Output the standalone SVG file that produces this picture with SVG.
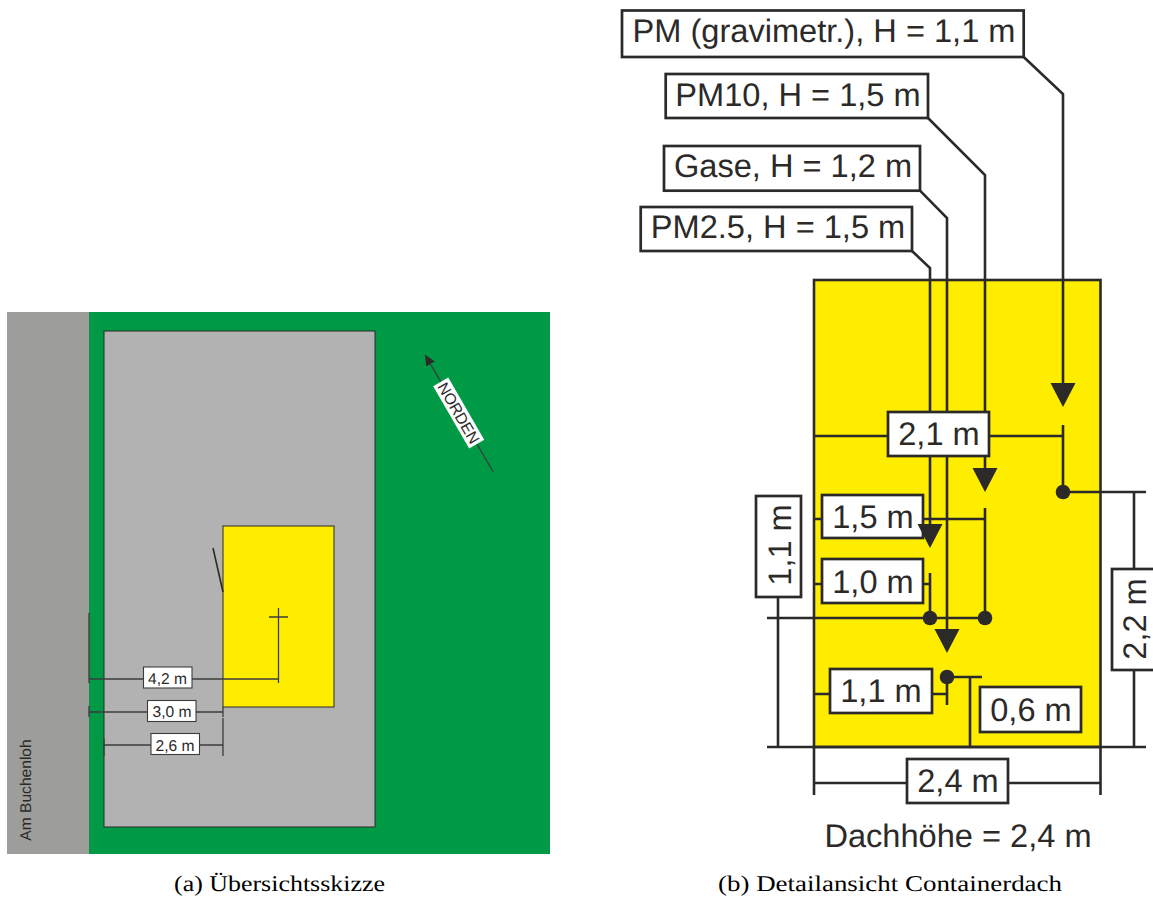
<svg xmlns="http://www.w3.org/2000/svg" width="1153" height="900" viewBox="0 0 1153 900">
<style>
text{text-rendering:geometricPrecision}
.l{fill:none;stroke:#2b2a29;stroke-width:2.6}
.s{fill:none;stroke:#3c3c3b;stroke-width:1.3}
.b{fill:#fff;stroke:#2b2a29;stroke-width:2.7}
.bs{fill:#fff;stroke:#3c3c3b;stroke-width:1.1}
.t{font-family:"Liberation Sans",Arial,sans-serif;font-size:32.600px;fill:#2b2a29;text-anchor:middle}
.ts{font-family:"Liberation Sans",Arial,sans-serif;font-size:15.6px;fill:#2b2a29;text-anchor:middle}
.c{font-family:"Liberation Serif","Times New Roman",serif;font-size:22.5px;fill:#000}
.d{fill:#2b2a29}
</style>
<defs>
<marker id="arrow" markerUnits="userSpaceOnUse" markerWidth="26" markerHeight="26" refX="14" refY="12.5" orient="auto"><path d="M0 0L24 12.5L0 25Z" fill="#2b2a29"/></marker>
<marker id="arrowS" markerUnits="userSpaceOnUse" markerWidth="14" markerHeight="14" refX="6" refY="5" orient="auto"><path d="M0 0L11 5L0 10Z" fill="#2b2a29"/></marker>
</defs>

<g id="overview-site">
<rect x="7" y="312" width="82" height="542" fill="#9d9d9c"/>
<rect x="89" y="312" width="461" height="542" fill="#009a46"/>
<rect x="104" y="331" width="271" height="496" fill="#b2b2b2" stroke="#2b2a29" stroke-width="1"/>
<rect x="223" y="526" width="111" height="181" fill="#ffed00" stroke="#2b2a29" stroke-width="1"/>
<text class="ts" transform="translate(30.5 790) rotate(-90)">Am Buchenloh</text>
</g>
<g id="overview-connectors">
<path class="l" style="stroke-width:1.6" d="M213 548L223 592"/>
<path class="s" d="M269 617H288M278.500 608V683M89 613V683M89 679H278.500M89 706V717M89 712H223M223 707V717M223 718V756M104 739V756M104 745H223"/>
<path class="s" d="M493 471.500L427.500 358.800" marker-end="url(#arrowS)"/>
</g>
<g id="dim-4-2"><rect class="bs" x="143.500" y="667" width="48.500" height="21"/><text class="ts" x="167.500" y="684">4,2 m</text></g>
<g id="dim-3-0"><rect class="bs" x="147.500" y="700.500" width="48.500" height="21"/><text class="ts" x="172" y="717">3,0 m</text></g>
<g id="dim-2-6"><rect class="bs" x="151" y="733.500" width="48.500" height="21"/><text class="ts" x="175" y="750.500">2,6 m</text></g>
<g id="norden" transform="translate(458.700 413) rotate(60)"><rect x="-36" y="-8.700" width="72" height="17.400" fill="#fff"/><text class="ts" y="5.500">NORDEN</text></g>

<g id="container-roof"><rect x="814" y="280" width="286.500" height="467" fill="#ffed00" stroke="#2b2a29" stroke-width="2.6"/></g>
<g id="dim-1-5"><rect class="b" x="822" y="495" width="101" height="43"/><text class="t" x="873" y="528">1,5 m</text></g>
<g id="connectors">
<path class="l" d="M1023.700 57L1063 94V397" marker-end="url(#arrow)"/>
<path class="l" d="M928 118L985 175V482" marker-end="url(#arrow)"/>
<path class="l" d="M920 190.700L947 218V643" marker-end="url(#arrow)"/>
<path class="l" d="M912 251L930 268V538" marker-end="url(#arrow)"/>
<path class="l" d="M814 436H1063M1063 425V492M1063 492H1146M1134 492V747"/>
<path class="l" d="M814 519H822M923 519H985M985 508V618"/>
<path class="l" d="M814 584H930M930 573V618M767 618H985"/>
<path class="l" d="M778 597V747M767 747H1146"/>
<path class="l" d="M814 694H947M947 677V705M947 677H982M970 677V747"/>
<path class="l" d="M814 747V795M1100.500 747V795M814 783H1100.500"/>
<circle class="d" cx="1063" cy="492" r="7.300"/>
<circle class="d" cx="930" cy="618" r="7.300"/>
<circle class="d" cx="985" cy="618" r="7.300"/>
<circle class="d" cx="947" cy="677" r="7.300"/>
</g>
<g id="label-pm-grav"><rect class="b" x="622" y="10.500" width="401.700" height="46.500"/><text class="t" x="824" y="41.700">PM (gravimetr.), H = 1,1 m</text></g>
<g id="label-pm10"><rect class="b" x="665.700" y="74" width="262.300" height="44"/><text class="t" x="798" y="105.700">PM10, H = 1,5 m</text></g>
<g id="label-gase"><rect class="b" x="664" y="146" width="256" height="44.700"/><text class="t" x="793" y="177">Gase, H = 1,2 m</text></g>
<g id="label-pm25"><rect class="b" x="640.700" y="207" width="271.300" height="44"/><text class="t" x="778" y="238">PM2.5, H = 1,5 m</text></g>
<g id="dim-2-1"><rect class="b" x="888" y="412" width="101" height="44"/><text class="t" x="939" y="445">2,1 m</text></g>
<g id="dim-1-0"><rect class="b" x="822" y="559" width="101" height="44"/><text class="t" x="873" y="593">1,0 m</text></g>
<g id="dim-1-1-a"><rect class="b" x="830" y="669" width="102" height="44"/><text class="t" x="881" y="702">1,1 m</text></g>
<g id="dim-0-6"><rect class="b" x="980" y="687" width="101" height="45"/><text class="t" x="1031" y="721">0,6 m</text></g>
<g id="dim-2-4"><rect class="b" x="907" y="759" width="101" height="44"/><text class="t" x="958" y="792">2,4 m</text></g>
<g id="dim-1-1-b"><rect class="b" x="756" y="496" width="45" height="101"/><text class="t" transform="translate(790.700 545) rotate(-90)">1,1 m</text></g>
<g id="dim-2-2"><rect class="b" x="1112" y="569" width="46" height="101"/><text class="t" transform="translate(1145.700 619) rotate(-90)">2,2 m</text></g>
<text class="t" x="958" y="846.500">Dachhöhe = 2,4 m</text>
<text class="c" x="174" y="891" textLength="211" lengthAdjust="spacingAndGlyphs">(a) Übersichtsskizze</text>
<text class="c" x="718" y="891" textLength="344" lengthAdjust="spacingAndGlyphs">(b) Detailansicht Containerdach</text>
</svg>
